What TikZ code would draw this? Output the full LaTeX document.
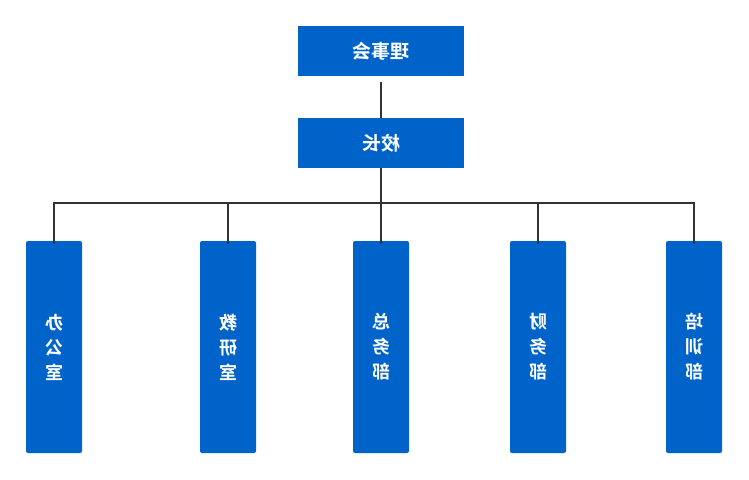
\documentclass[tikz,border=0pt]{standalone}
\usepackage{fontspec}
\newfontfamily\cjk{Noto Sans CJK SC}[BoldFont={Noto Sans CJK SC Bold}]
\definecolor{boxblue}{RGB}{0,99,201}
\definecolor{linegray}{RGB}{51,51,51}
\newcommand{\mirtxt}[1]{\scalebox{-1}[1]{#1}}
\begin{document}
\begin{tikzpicture}[x=1pt,y=-1pt,
  topbox/.style={fill=boxblue,draw=none,minimum width=166pt,minimum height=50pt,inner sep=0pt,text=white,font=\cjk\bfseries\fontsize{19}{22}\selectfont},
  deptbox/.style={fill=boxblue,draw=none,rounded corners=2pt,minimum width=56pt,minimum height=212pt,inner sep=0pt,text=white,align=center,font=\cjk\bfseries\fontsize{18}{25}\selectfont},
  conn/.style={draw=linegray,line width=1.6pt}]
\useasboundingbox (0,0) rectangle (749,479);
\node[topbox] (board) at (381,51) {\mirtxt{理事会}};
\node[topbox] (head) at (381,143) {\mirtxt{校长}};
\node[deptbox] (d1) at (54,347) {\mirtxt{\parbox{24pt}{\centering 办\\公\\室}}};
\node[deptbox] (d2) at (228,347) {\mirtxt{\parbox{24pt}{\centering 教\\研\\室}}};
\node[deptbox] (d3) at (381,347) {\mirtxt{\parbox{24pt}{\centering 总\\务\\部}}};
\node[deptbox] (d4) at (538,347) {\mirtxt{\parbox{24pt}{\centering 财\\务\\部}}};
\node[deptbox] (d5) at (694,347) {\mirtxt{\parbox{24pt}{\centering 培\\训\\部}}};
\coordinate (bus) at (381,203);
\draw[conn] (board.south) ++(0,6) -- (head.north);
\draw[conn] (head.south) -- (bus);
\draw[conn] ([yshift=-3pt]d1.north) -- (d1.north |- bus) -- (d5.north |- bus) -- ([yshift=-3pt]d5.north);
\foreach \d in {d2,d3,d4} \draw[conn] ([yshift=-3pt]\d.north) -- (\d.north |- bus);
\end{tikzpicture}
\end{document}
